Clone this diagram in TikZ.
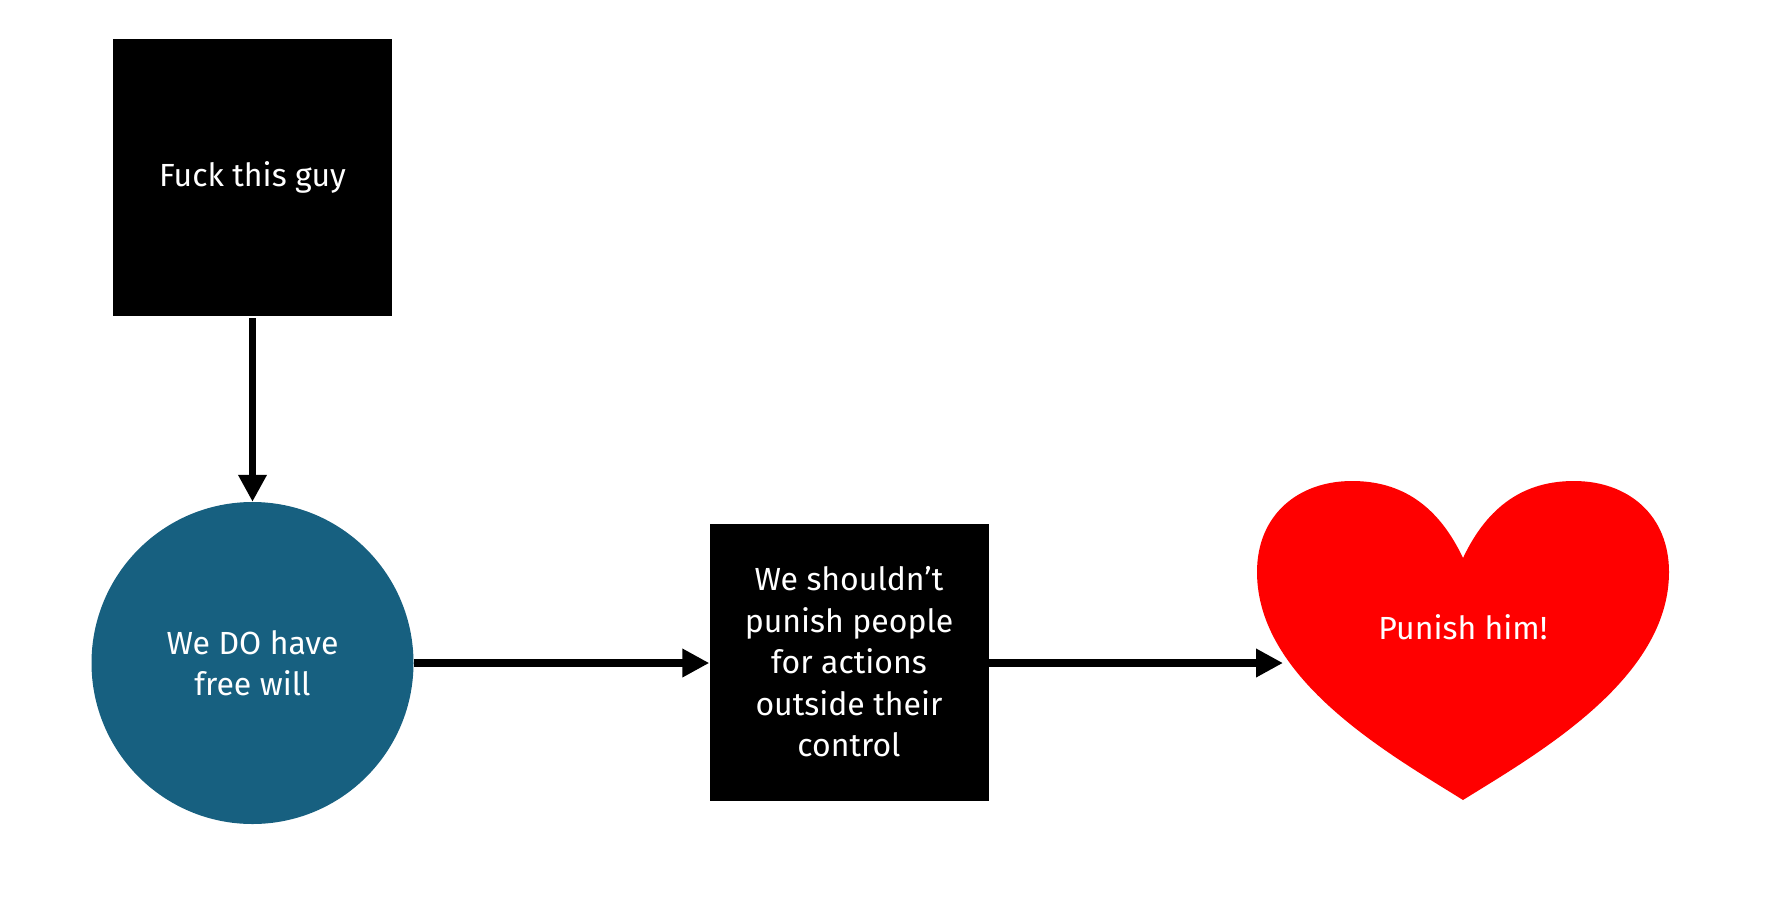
\documentclass[tikz,border=0pt]{standalone}
\usepackage{fontspec}
\setmainfont{Fira Sans}
\usetikzlibrary{arrows.meta}
\definecolor{circblue}{RGB}{23,96,128}
\definecolor{heartred}{RGB}{255,0,0}
\begin{document}
\begin{tikzpicture}[x=1pt,y=-1pt,
  txt/.style={text=white,font=\fontsize{32}{41.5}\selectfont,align=center},
  blackbox/.style={txt,fill=black,minimum width=279pt,minimum height=277pt,inner sep=0pt},
  bluecirc/.style={txt,circle,fill=circblue,minimum size=322pt,inner sep=0pt},
  conn/.style={line width=7.5pt,-{Triangle[width=27pt,length=27pt]}}]
\useasboundingbox (0,0) rectangle (1768,900);
\node[blackbox] (top) at (252.5,177.5) {Fuck this guy};
\node[bluecirc] (circ) at (252.5,663) {We DO have\\free will};
\node[blackbox] (mid) at (849,662) {We shouldn’t\\punish people\\for actions\\outside their\\control};
\fill[heartred] (1463,558) .. controls (1488,505) and (1525,481) .. (1574,481)
  .. controls (1628,481) and (1669,515) .. (1669,572)
  .. controls (1669,680) and (1535,755) .. (1463,800)
  .. controls (1391,755) and (1257,680) .. (1257,572)
  .. controls (1257,515) and (1298,481) .. (1352,481)
  .. controls (1401,481) and (1438,505) .. (1463,558) -- cycle;
\node[txt] (heart) at (1463,627) {Punish him!};
\coordinate (heartin) at (1283,663);
\draw[conn] ([yshift=-2pt]top.south) -- (circ.north);
\draw[conn] (circ.east) -- (circ.east -| mid.west);
\draw[conn] (circ.east -| mid.east) -- (heartin);
\end{tikzpicture}
\end{document}
